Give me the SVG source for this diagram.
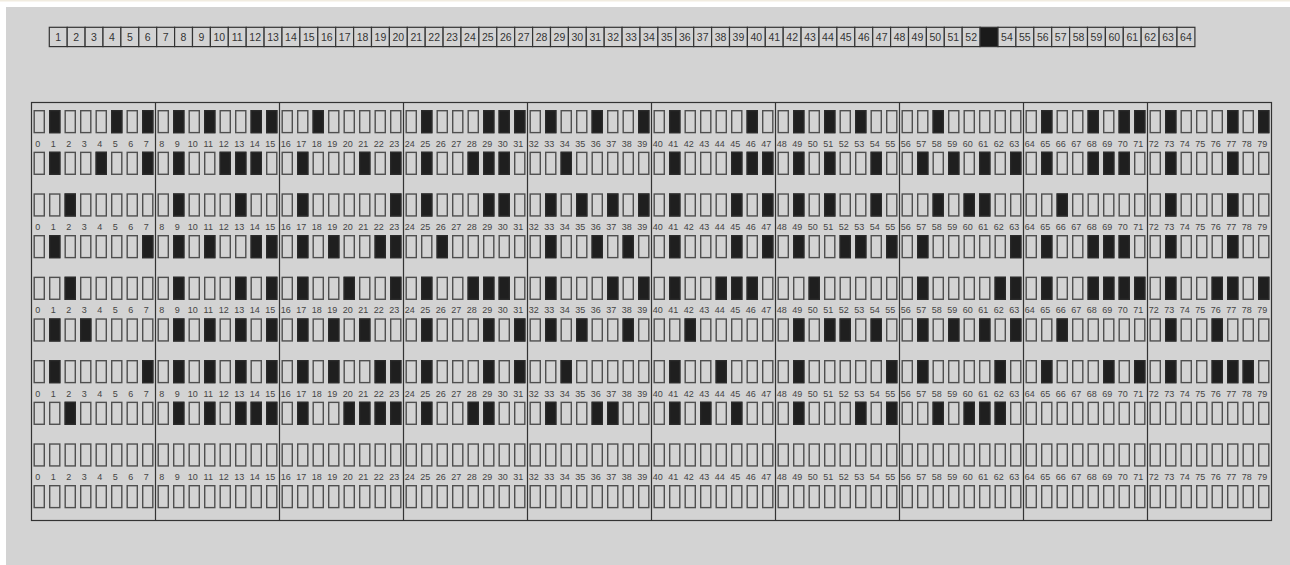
<svg xmlns="http://www.w3.org/2000/svg" xmlns:xlink="http://www.w3.org/1999/xlink" width="1290" height="565" viewBox="0 0 1290 565">
<style>
.e{fill:#d3d3d3;stroke:#4f4f4f;stroke-width:1.4}
.f{fill:#1f1f1f;stroke:#2a2a2a;stroke-width:1.4}
.sb{fill:#d3d3d3;stroke:#333;stroke-width:1.2}
.sbf{fill:#1a1a1a;stroke:#333;stroke-width:1.2}
.st{font-family:"Liberation Sans",Arial,sans-serif;font-size:10.5px;fill:#333;text-anchor:middle}
.lb{font-family:"Liberation Sans",Arial,sans-serif;font-size:9px;fill:#444;text-anchor:middle}
.frame{fill:none;stroke:#333;stroke-width:1.2}
.div{stroke:#333;stroke-width:1.2}
</style>
<defs>
<rect id="e" class="e" x="0.7" y="0.7" width="10.1" height="21.9"/>
<rect id="f" class="f" x="0.7" y="0.7" width="10.1" height="21.9"/>
<g id="z"><use href="#e"/><use href="#e" x="15.5"/><use href="#e" x="31"/><use href="#e" x="46.5"/><use href="#e" x="62"/><use href="#e" x="77.5"/><use href="#e" x="93"/><use href="#e" x="108.5"/></g>
<g id="c_sp"><use href="#z"/><use href="#f" x="31"/></g>
<g id="cE"><use href="#z"/><use href="#f" x="15.5"/><use href="#f" x="77.5"/><use href="#f" x="108.5"/></g>
<g id="cS"><use href="#z"/><use href="#f" x="15.5"/><use href="#f" x="46.5"/><use href="#f" x="93"/><use href="#f" x="108.5"/></g>
<g id="cG"><use href="#z"/><use href="#f" x="15.5"/><use href="#f" x="77.5"/><use href="#f" x="93"/><use href="#f" x="108.5"/></g>
<g id="cI"><use href="#z"/><use href="#f" x="15.5"/><use href="#f" x="62"/><use href="#f" x="108.5"/></g>
<g id="cB"><use href="#z"/><use href="#f" x="15.5"/><use href="#f" x="93"/></g>
<g id="cT"><use href="#z"/><use href="#f" x="15.5"/><use href="#f" x="46.5"/><use href="#f" x="77.5"/></g>
<g id="cK"><use href="#z"/><use href="#f" x="15.5"/><use href="#f" x="62"/><use href="#f" x="93"/><use href="#f" x="108.5"/></g>
<g id="cN"><use href="#z"/><use href="#f" x="15.5"/><use href="#f" x="62"/><use href="#f" x="77.5"/><use href="#f" x="93"/></g>
<g id="cR"><use href="#z"/><use href="#f" x="15.5"/><use href="#f" x="46.5"/><use href="#f" x="93"/></g>
<g id="cU"><use href="#z"/><use href="#f" x="15.5"/><use href="#f" x="46.5"/><use href="#f" x="77.5"/><use href="#f" x="108.5"/></g>
<g id="cD"><use href="#z"/><use href="#f" x="15.5"/><use href="#f" x="77.5"/></g>
<g id="cA"><use href="#z"/><use href="#f" x="15.5"/><use href="#f" x="108.5"/></g>
<g id="cF"><use href="#z"/><use href="#f" x="15.5"/><use href="#f" x="77.5"/><use href="#f" x="93"/></g>
<g id="c_cm"><use href="#z"/><use href="#f" x="31"/><use href="#f" x="62"/><use href="#f" x="77.5"/></g>
<g id="cJ"><use href="#z"/><use href="#f" x="15.5"/><use href="#f" x="62"/><use href="#f" x="93"/></g>
<g id="cM"><use href="#z"/><use href="#f" x="15.5"/><use href="#f" x="62"/><use href="#f" x="77.5"/><use href="#f" x="108.5"/></g>
<g id="cC"><use href="#z"/><use href="#f" x="15.5"/><use href="#f" x="93"/><use href="#f" x="108.5"/></g>
<g id="cO"><use href="#z"/><use href="#f" x="15.5"/><use href="#f" x="62"/><use href="#f" x="77.5"/><use href="#f" x="93"/><use href="#f" x="108.5"/></g>
<g id="cP"><use href="#z"/><use href="#f" x="15.5"/><use href="#f" x="46.5"/></g>
<g id="cZ"><use href="#z"/><use href="#f" x="15.5"/><use href="#f" x="46.5"/><use href="#f" x="62"/><use href="#f" x="93"/></g>
<g id="cH"><use href="#z"/><use href="#f" x="15.5"/><use href="#f" x="62"/></g>
<g id="cL"><use href="#z"/><use href="#f" x="15.5"/><use href="#f" x="62"/><use href="#f" x="77.5"/></g>
<g id="cW"><use href="#z"/><use href="#f" x="15.5"/><use href="#f" x="46.5"/><use href="#f" x="77.5"/><use href="#f" x="93"/><use href="#f" x="108.5"/></g>
<g id="c_dt"><use href="#z"/><use href="#f" x="31"/><use href="#f" x="62"/><use href="#f" x="77.5"/><use href="#f" x="93"/></g>
<g id="lbl" class="lb">
<text x="39.25">0</text><text x="54.75">1</text><text x="70.25">2</text><text x="85.75">3</text><text x="101.25">4</text><text x="116.75">5</text><text x="132.25">6</text><text x="147.75">7</text>
<text x="163.25">8</text><text x="178.75">9</text><text x="194.25">10</text><text x="209.75">11</text><text x="225.25">12</text><text x="240.75">13</text><text x="256.25">14</text><text x="271.75">15</text>
<text x="287.25">16</text><text x="302.75">17</text><text x="318.25">18</text><text x="333.75">19</text><text x="349.25">20</text><text x="364.75">21</text><text x="380.25">22</text><text x="395.75">23</text>
<text x="411.25">24</text><text x="426.75">25</text><text x="442.25">26</text><text x="457.75">27</text><text x="473.25">28</text><text x="488.75">29</text><text x="504.25">30</text><text x="519.75">31</text>
<text x="535.25">32</text><text x="550.75">33</text><text x="566.25">34</text><text x="581.75">35</text><text x="597.25">36</text><text x="612.75">37</text><text x="628.25">38</text><text x="643.75">39</text>
<text x="659.25">40</text><text x="674.75">41</text><text x="690.25">42</text><text x="705.75">43</text><text x="721.25">44</text><text x="736.75">45</text><text x="752.25">46</text><text x="767.75">47</text>
<text x="783.25">48</text><text x="798.75">49</text><text x="814.25">50</text><text x="829.75">51</text><text x="845.25">52</text><text x="860.75">53</text><text x="876.25">54</text><text x="891.75">55</text>
<text x="907.25">56</text><text x="922.75">57</text><text x="938.25">58</text><text x="953.75">59</text><text x="969.25">60</text><text x="984.75">61</text><text x="1000.25">62</text><text x="1015.75">63</text>
<text x="1031.25">64</text><text x="1046.75">65</text><text x="1062.25">66</text><text x="1077.75">67</text><text x="1093.25">68</text><text x="1108.75">69</text><text x="1124.25">70</text><text x="1139.75">71</text>
<text x="1155.25">72</text><text x="1170.75">73</text><text x="1186.25">74</text><text x="1201.75">75</text><text x="1217.25">76</text><text x="1232.75">77</text><text x="1248.25">78</text><text x="1263.75">79</text>
</g>
</defs>

<rect x="0" y="0" width="1290" height="565" fill="#ffffff"/>
<rect x="0" y="0" width="1290" height="1.5" fill="#f1ece0"/>
<rect x="6" y="7" width="1284" height="558" fill="#d3d3d3"/>

<g id="strip" transform="translate(49.3,27.3)">
<g transform="translate(0,0)"><rect class="sb" width="17.9" height="19.3"/><text class="st" x="8.95" y="13.5">1</text></g>
<g transform="translate(17.9,0)"><rect class="sb" width="17.9" height="19.3"/><text class="st" x="8.95" y="13.5">2</text></g>
<g transform="translate(35.8,0)"><rect class="sb" width="17.9" height="19.3"/><text class="st" x="8.95" y="13.5">3</text></g>
<g transform="translate(53.7,0)"><rect class="sb" width="17.9" height="19.3"/><text class="st" x="8.95" y="13.5">4</text></g>
<g transform="translate(71.6,0)"><rect class="sb" width="17.9" height="19.3"/><text class="st" x="8.95" y="13.5">5</text></g>
<g transform="translate(89.5,0)"><rect class="sb" width="17.9" height="19.3"/><text class="st" x="8.95" y="13.5">6</text></g>
<g transform="translate(107.4,0)"><rect class="sb" width="17.9" height="19.3"/><text class="st" x="8.95" y="13.5">7</text></g>
<g transform="translate(125.3,0)"><rect class="sb" width="17.9" height="19.3"/><text class="st" x="8.95" y="13.5">8</text></g>
<g transform="translate(143.2,0)"><rect class="sb" width="17.9" height="19.3"/><text class="st" x="8.95" y="13.5">9</text></g>
<g transform="translate(161.1,0)"><rect class="sb" width="17.9" height="19.3"/><text class="st" x="8.95" y="13.5">10</text></g>
<g transform="translate(179,0)"><rect class="sb" width="17.9" height="19.3"/><text class="st" x="8.95" y="13.5">11</text></g>
<g transform="translate(196.9,0)"><rect class="sb" width="17.9" height="19.3"/><text class="st" x="8.95" y="13.5">12</text></g>
<g transform="translate(214.8,0)"><rect class="sb" width="17.9" height="19.3"/><text class="st" x="8.95" y="13.5">13</text></g>
<g transform="translate(232.7,0)"><rect class="sb" width="17.9" height="19.3"/><text class="st" x="8.95" y="13.5">14</text></g>
<g transform="translate(250.6,0)"><rect class="sb" width="17.9" height="19.3"/><text class="st" x="8.95" y="13.5">15</text></g>
<g transform="translate(268.5,0)"><rect class="sb" width="17.9" height="19.3"/><text class="st" x="8.95" y="13.5">16</text></g>
<g transform="translate(286.4,0)"><rect class="sb" width="17.9" height="19.3"/><text class="st" x="8.95" y="13.5">17</text></g>
<g transform="translate(304.3,0)"><rect class="sb" width="17.9" height="19.3"/><text class="st" x="8.95" y="13.5">18</text></g>
<g transform="translate(322.2,0)"><rect class="sb" width="17.9" height="19.3"/><text class="st" x="8.95" y="13.5">19</text></g>
<g transform="translate(340.1,0)"><rect class="sb" width="17.9" height="19.3"/><text class="st" x="8.95" y="13.5">20</text></g>
<g transform="translate(358,0)"><rect class="sb" width="17.9" height="19.3"/><text class="st" x="8.95" y="13.5">21</text></g>
<g transform="translate(375.9,0)"><rect class="sb" width="17.9" height="19.3"/><text class="st" x="8.95" y="13.5">22</text></g>
<g transform="translate(393.8,0)"><rect class="sb" width="17.9" height="19.3"/><text class="st" x="8.95" y="13.5">23</text></g>
<g transform="translate(411.7,0)"><rect class="sb" width="17.9" height="19.3"/><text class="st" x="8.95" y="13.5">24</text></g>
<g transform="translate(429.6,0)"><rect class="sb" width="17.9" height="19.3"/><text class="st" x="8.95" y="13.5">25</text></g>
<g transform="translate(447.5,0)"><rect class="sb" width="17.9" height="19.3"/><text class="st" x="8.95" y="13.5">26</text></g>
<g transform="translate(465.4,0)"><rect class="sb" width="17.9" height="19.3"/><text class="st" x="8.95" y="13.5">27</text></g>
<g transform="translate(483.3,0)"><rect class="sb" width="17.9" height="19.3"/><text class="st" x="8.95" y="13.5">28</text></g>
<g transform="translate(501.2,0)"><rect class="sb" width="17.9" height="19.3"/><text class="st" x="8.95" y="13.5">29</text></g>
<g transform="translate(519.1,0)"><rect class="sb" width="17.9" height="19.3"/><text class="st" x="8.95" y="13.5">30</text></g>
<g transform="translate(537,0)"><rect class="sb" width="17.9" height="19.3"/><text class="st" x="8.95" y="13.5">31</text></g>
<g transform="translate(554.9,0)"><rect class="sb" width="17.9" height="19.3"/><text class="st" x="8.95" y="13.5">32</text></g>
<g transform="translate(572.8,0)"><rect class="sb" width="17.9" height="19.3"/><text class="st" x="8.95" y="13.5">33</text></g>
<g transform="translate(590.7,0)"><rect class="sb" width="17.9" height="19.3"/><text class="st" x="8.95" y="13.5">34</text></g>
<g transform="translate(608.6,0)"><rect class="sb" width="17.9" height="19.3"/><text class="st" x="8.95" y="13.5">35</text></g>
<g transform="translate(626.5,0)"><rect class="sb" width="17.9" height="19.3"/><text class="st" x="8.95" y="13.5">36</text></g>
<g transform="translate(644.4,0)"><rect class="sb" width="17.9" height="19.3"/><text class="st" x="8.95" y="13.5">37</text></g>
<g transform="translate(662.3,0)"><rect class="sb" width="17.9" height="19.3"/><text class="st" x="8.95" y="13.5">38</text></g>
<g transform="translate(680.2,0)"><rect class="sb" width="17.9" height="19.3"/><text class="st" x="8.95" y="13.5">39</text></g>
<g transform="translate(698.1,0)"><rect class="sb" width="17.9" height="19.3"/><text class="st" x="8.95" y="13.5">40</text></g>
<g transform="translate(716,0)"><rect class="sb" width="17.9" height="19.3"/><text class="st" x="8.95" y="13.5">41</text></g>
<g transform="translate(733.9,0)"><rect class="sb" width="17.9" height="19.3"/><text class="st" x="8.95" y="13.5">42</text></g>
<g transform="translate(751.8,0)"><rect class="sb" width="17.9" height="19.3"/><text class="st" x="8.95" y="13.5">43</text></g>
<g transform="translate(769.7,0)"><rect class="sb" width="17.9" height="19.3"/><text class="st" x="8.95" y="13.5">44</text></g>
<g transform="translate(787.6,0)"><rect class="sb" width="17.9" height="19.3"/><text class="st" x="8.95" y="13.5">45</text></g>
<g transform="translate(805.5,0)"><rect class="sb" width="17.9" height="19.3"/><text class="st" x="8.95" y="13.5">46</text></g>
<g transform="translate(823.4,0)"><rect class="sb" width="17.9" height="19.3"/><text class="st" x="8.95" y="13.5">47</text></g>
<g transform="translate(841.3,0)"><rect class="sb" width="17.9" height="19.3"/><text class="st" x="8.95" y="13.5">48</text></g>
<g transform="translate(859.2,0)"><rect class="sb" width="17.9" height="19.3"/><text class="st" x="8.95" y="13.5">49</text></g>
<g transform="translate(877.1,0)"><rect class="sb" width="17.9" height="19.3"/><text class="st" x="8.95" y="13.5">50</text></g>
<g transform="translate(895,0)"><rect class="sb" width="17.9" height="19.3"/><text class="st" x="8.95" y="13.5">51</text></g>
<g transform="translate(912.9,0)"><rect class="sb" width="17.9" height="19.3"/><text class="st" x="8.95" y="13.5">52</text></g>
<g transform="translate(930.8,0)"><rect class="sbf" width="17.9" height="19.3"/></g>
<g transform="translate(948.7,0)"><rect class="sb" width="17.9" height="19.3"/><text class="st" x="8.95" y="13.5">54</text></g>
<g transform="translate(966.6,0)"><rect class="sb" width="17.9" height="19.3"/><text class="st" x="8.95" y="13.5">55</text></g>
<g transform="translate(984.5,0)"><rect class="sb" width="17.9" height="19.3"/><text class="st" x="8.95" y="13.5">56</text></g>
<g transform="translate(1002.4,0)"><rect class="sb" width="17.9" height="19.3"/><text class="st" x="8.95" y="13.5">57</text></g>
<g transform="translate(1020.3,0)"><rect class="sb" width="17.9" height="19.3"/><text class="st" x="8.95" y="13.5">58</text></g>
<g transform="translate(1038.2,0)"><rect class="sb" width="17.9" height="19.3"/><text class="st" x="8.95" y="13.5">59</text></g>
<g transform="translate(1056.1,0)"><rect class="sb" width="17.9" height="19.3"/><text class="st" x="8.95" y="13.5">60</text></g>
<g transform="translate(1074,0)"><rect class="sb" width="17.9" height="19.3"/><text class="st" x="8.95" y="13.5">61</text></g>
<g transform="translate(1091.9,0)"><rect class="sb" width="17.9" height="19.3"/><text class="st" x="8.95" y="13.5">62</text></g>
<g transform="translate(1109.8,0)"><rect class="sb" width="17.9" height="19.3"/><text class="st" x="8.95" y="13.5">63</text></g>
<g transform="translate(1127.7,0)"><rect class="sb" width="17.9" height="19.3"/><text class="st" x="8.95" y="13.5">64</text></g>
</g>

<g id="grid">
<rect class="frame" x="31.5" y="102.5" width="1240" height="418"/>
<g id="dividers">
<line class="div" x1="155.5" y1="102.5" x2="155.5" y2="520.5"/>
<line class="div" x1="279.5" y1="102.5" x2="279.5" y2="520.5"/>
<line class="div" x1="403.5" y1="102.5" x2="403.5" y2="520.5"/>
<line class="div" x1="527.5" y1="102.5" x2="527.5" y2="520.5"/>
<line class="div" x1="651.5" y1="102.5" x2="651.5" y2="520.5"/>
<line class="div" x1="775.5" y1="102.5" x2="775.5" y2="520.5"/>
<line class="div" x1="899.5" y1="102.5" x2="899.5" y2="520.5"/>
<line class="div" x1="1023.5" y1="102.5" x2="1023.5" y2="520.5"/>
<line class="div" x1="1147.5" y1="102.5" x2="1147.5" y2="520.5"/>
</g>
<g id="labels">
<use href="#lbl" x="-1.5" y="146.5"/>
<use href="#lbl" x="-1.5" y="229.83"/>
<use href="#lbl" x="-1.5" y="313.17"/>
<use href="#lbl" x="-1.5" y="396.5"/>
<use href="#lbl" x="-1.5" y="479.83"/>
</g>
<g id="row0" transform="translate(33.5,110)"><use href="#cE"/><use href="#cS" x="124"/><use href="#c_sp" x="248"/><use href="#cG" x="372"/><use href="#cI" x="496"/><use href="#cB" x="620"/><use href="#cT" x="744"/><use href="#c_sp" x="868"/><use href="#cK" x="992"/><use href="#cE" x="1116"/></g>
<g id="row1" transform="translate(33.5,151.67)"><use href="#cI"/><use href="#cN" x="124"/><use href="#cE" x="248"/><use href="#cN" x="372"/><use href="#c_sp" x="496"/><use href="#cG" x="620"/><use href="#cR" x="744"/><use href="#cU" x="868"/><use href="#cN" x="992"/><use href="#cD" x="1116"/></g>
<g id="row2" transform="translate(33.5,193.33)"><use href="#c_sp"/><use href="#cD" x="124"/><use href="#cA" x="248"/><use href="#cF" x="372"/><use href="#cU" x="496"/><use href="#cE" x="620"/><use href="#cR" x="744"/><use href="#c_cm" x="868"/><use href="#c_sp" x="992"/><use href="#cD" x="1116"/></g>
<g id="row3" transform="translate(33.5,235)"><use href="#cA"/><use href="#cS" x="124"/><use href="#cS" x="248"/><use href="#c_sp" x="372"/><use href="#cJ" x="496"/><use href="#cE" x="620"/><use href="#cM" x="744"/><use href="#cA" x="868"/><use href="#cN" x="992"/><use href="#cD" x="1116"/></g>
<g id="row4" transform="translate(33.5,276.67)"><use href="#c_sp"/><use href="#cE" x="124"/><use href="#cI" x="248"/><use href="#cN" x="372"/><use href="#cE" x="496"/><use href="#cN" x="620"/><use href="#c_sp" x="744"/><use href="#cC" x="868"/><use href="#cO" x="992"/><use href="#cM" x="1116"/></g>
<g id="row5" transform="translate(33.5,318.33)"><use href="#cP"/><use href="#cU" x="124"/><use href="#cT" x="248"/><use href="#cE" x="372"/><use href="#cR" x="496"/><use href="#c_sp" x="620"/><use href="#cZ" x="744"/><use href="#cU" x="868"/><use href="#c_sp" x="992"/><use href="#cH" x="1116"/></g>
<g id="row6" transform="translate(33.5,360)"><use href="#cA"/><use href="#cU" x="124"/><use href="#cS" x="248"/><use href="#cE" x="372"/><use href="#c_sp" x="496"/><use href="#cH" x="620"/><use href="#cA" x="744"/><use href="#cB" x="868"/><use href="#cE" x="992"/><use href="#cN" x="1116"/></g>
<g id="row7" transform="translate(33.5,401.67)"><use href="#c_sp"/><use href="#cW" x="124"/><use href="#cO" x="248"/><use href="#cL" x="372"/><use href="#cL" x="496"/><use href="#cT" x="620"/><use href="#cE" x="744"/><use href="#c_dt" x="868"/><use href="#z" x="992"/><use href="#z" x="1116"/></g>
<g id="row8" transform="translate(33.5,443.33)"><use href="#z"/><use href="#z" x="124"/><use href="#z" x="248"/><use href="#z" x="372"/><use href="#z" x="496"/><use href="#z" x="620"/><use href="#z" x="744"/><use href="#z" x="868"/><use href="#z" x="992"/><use href="#z" x="1116"/></g>
<g id="row9" transform="translate(33.5,485)"><use href="#z"/><use href="#z" x="124"/><use href="#z" x="248"/><use href="#z" x="372"/><use href="#z" x="496"/><use href="#z" x="620"/><use href="#z" x="744"/><use href="#z" x="868"/><use href="#z" x="992"/><use href="#z" x="1116"/></g>
</g>
</svg>
